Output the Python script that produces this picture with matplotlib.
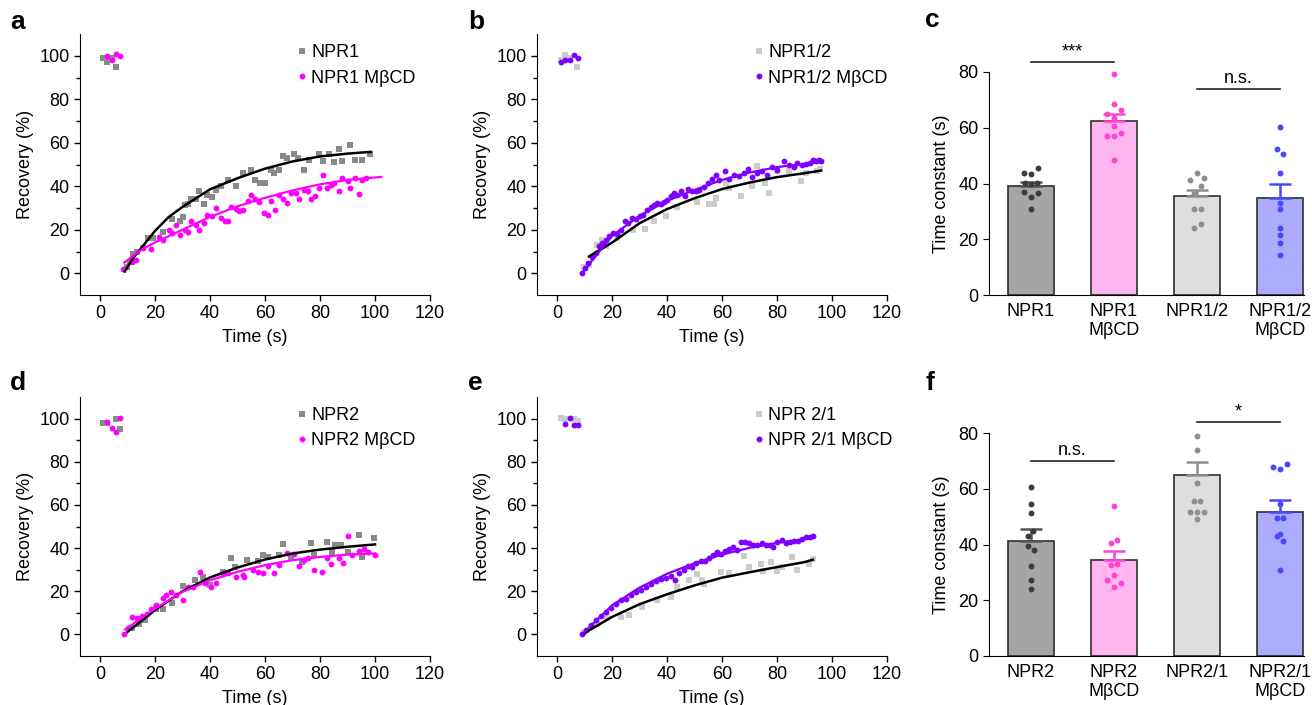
import numpy as np
import matplotlib.pyplot as plt

plt.rcParams['font.family'] = ['Liberation Sans', 'DejaVu Sans']
plt.rcParams['font.size'] = 13

# ---------------------------------------------------------------- panel a data
a_ctrl_t = [1.2, 2.7, 4.2, 5.8, 9.7, 11, 12, 13.3, 15.5, 17.5, 19.3, 23, 26, 29, 30, 31, 32, 33, 35, 36,
            37.7, 39, 40.7, 42, 44, 46.5, 49.5, 52, 55, 56.5, 58, 60, 62, 63.4, 65, 66.4, 68, 70.7,
            72, 74, 76, 79.5, 81, 83.3, 85, 87, 88, 91, 92.8, 95.4, 98]
a_ctrl_y = [99, 97, 99, 95, 3, 5.4, 9, 10, 11.5, 16, 16, 19, 25, 24, 26, 31.5, 32, 34, 34, 38,
            32, 36, 35, 38.5, 40, 43, 40, 46, 47.7, 43, 41.5, 41.5, 47.7, 46, 47.7, 54, 53, 55,
            53, 47.7, 52, 55, 51.5, 54.6, 51, 57, 51.5, 59, 52, 52, 55]
a_mbcd_t = [2.7, 4.2, 5.8, 7.2, 8.5, 11.5, 13, 15.7, 18.7, 21.5, 23, 25, 26, 27.5, 29, 31, 32, 33, 35,
            36, 37.7, 39, 40.7, 42, 44, 45.3, 46.5, 47.7, 49.5, 50.7, 52, 53.7, 55, 56.5, 57.7, 59.8,
            61, 62.2, 63.8, 65, 66.7, 68, 69.6, 71.3, 72.5, 74, 75.5, 76.7, 78, 79.5, 81, 82.7, 84,
            85, 87, 88, 90, 91, 92.8, 94.2, 95.4, 96.9]
a_mbcd_y = [100, 98, 101, 100, 1.8, 5.4, 6, 11.5, 11, 16.6, 15.4, 20, 18.5, 22, 17.7, 20, 19, 24, 22,
            19.7, 23, 27, 26.5, 30, 25.4, 23.8, 23.8, 30.5, 29.5, 28.5, 29, 33, 36, 34, 32.6, 27.7,
            27, 33, 29, 36, 34, 32.3, 37, 37, 34, 38.5, 37.7, 34, 35.4, 39, 45, 39, 40.8,
            41.5, 37.7, 43.8, 42.3, 39, 43.8, 36.6, 43, 43.8]
a_ctrl_fit_t = [9, 12, 15, 20, 25, 30, 40, 50, 60, 70, 80, 90, 98.4]
a_ctrl_fit_y = [0.8, 7, 11.6, 19.5, 25.9, 30.5, 38.6, 43.7, 48.1, 51.4, 53.7, 55, 55.8]
a_mbcd_fit_t = [8.8, 15, 20, 30, 40, 50, 60, 70, 80, 90, 102.3]
a_mbcd_fit_y = [4.9, 10.8, 14.2, 20, 25.9, 30.8, 34.7, 38.1, 40.9, 42.9, 44.3]

# ---------------------------------------------------------------- panel b data
b_ctrl_t = [1.5, 3, 4.6, 7.3, 9.7, 11.6, 14.5, 16.2, 17.7, 21.9, 27.6, 32, 35.3, 39.5, 43.7, 51, 55.3,
            57, 57.7, 61.3, 62.5, 66.8, 71, 72.8, 75.8, 77, 80.1, 84.4, 88.6, 90.4, 94.7, 95.8]
b_ctrl_y = [98, 100.5, 99, 95, 3, 3.8, 13, 15.3, 12.3, 16.2, 19.9, 20.5, 24.2, 26.5, 30.6, 32.7, 31.7,
            31.7, 34.5, 41.4, 39.1, 35.6, 39.9, 49.4, 41.7, 37.1, 46.8, 46.8, 42.2, 46.3, 46.8, 47.9]
b_mbcd_t = [1.5, 3, 4.6, 6, 7.5, 8.9, 10.2, 11.4, 12.8, 14, 15.3, 16.5, 17.7, 18.9, 20.4, 21.9, 23.1,
            24.7, 25.9, 27.4, 28.6, 30, 31.3, 32.8, 34, 35.3, 36.5, 37.7, 38.9, 40.1, 41.3, 42.5,
            43.7, 44.9, 46.5, 47.7, 49, 50.4, 51.6, 53.5, 55, 56.2, 57.7, 58.9, 61.1, 62.5, 64.4,
            66.2, 68, 69.6, 71, 72.8, 74.7, 76.5, 78.3, 80.1, 82.5, 84.4, 86.2, 87.4, 89.2, 90.7,
            91.9, 93.1, 94.3, 95.3, 96]
b_mbcd_y = [97, 98, 98, 100.5, 99, 0, 2.3, 4.6, 7.7, 9.5, 12.3, 13.8, 15.3, 16.9, 18.7, 18.1, 19.9,
            24.2, 23, 25.3, 24.9, 26.4, 26.8, 29.1, 30.6, 31.4, 32.2, 31.9, 32.9, 33.7, 35.3, 37.1,
            36, 37.6, 35.3, 38.7, 37.6, 38, 38.3, 39.6, 41.7, 43.3, 45.2, 42.9, 47.2, 43.3, 45.2,
            44.8, 46.3, 47.9, 44.2, 46.3, 46.8, 45.2, 49, 47.5, 51.4, 49.8, 48.8, 50.9, 49.8, 50.2,
            50.9, 52.1, 51.8, 52.1, 51.7]
b_ctrl_fit_t = [11.6, 20, 30, 40, 50, 60, 70, 80, 90, 96]
b_ctrl_fit_y = [7.7, 14.1, 23, 29.5, 34.5, 38.7, 41.7, 44.2, 46, 47.2]
b_mbcd_fit_t = [9, 20, 30, 40, 50, 60, 70, 80, 90, 96]
b_mbcd_fit_y = [0, 17.2, 26.4, 33.3, 38.3, 42.9, 46.3, 48.8, 50.3, 51.1]

# ---------------------------------------------------------------- panel d data
d_ctrl_t = [1.2, 2.7, 5.8, 7.2, 11.5, 14, 16.3, 20.5, 22.9, 26.2, 30.2, 34.4, 37.4, 39.9, 44.7, 47.7,
            48.9, 53.5, 57.4, 59.2, 61, 65.2, 66.4, 69.4, 73.6, 76.7, 77.9, 82.5, 84.5, 85.4, 87.8,
            90, 94.2, 95.4, 99.6]
d_ctrl_y = [98, 98, 100, 95, 2.8, 5, 6.6, 11.6, 12, 14.6, 22.4, 25.1, 26.4, 22.8, 29, 35.2,
            31.3, 34.7, 34.1, 36.7, 35.9, 36.7, 42.1, 35.2, 33.6, 42.4, 36.7, 42.9, 38.2, 41.3, 41.3,
            38.2, 46, 35.9, 44.9]
d_mbcd_t = [2.7, 4.2, 5.8, 7.2, 8.8, 10.3, 11.7, 13.3, 15.1, 16.9, 18.7, 20.5, 22.9, 24.1, 25.9, 27.7,
            30.2, 32, 33.8, 36.2, 38, 40.5, 42.3, 44.7, 46.5, 49.5, 51.9, 52.5, 55.5, 57.4, 59.2, 61,
            63.4, 65.2, 68, 70.7, 72.5, 74.3, 75.5, 77.9, 80.9, 82.7, 83.9, 86.9, 88.2, 90, 91.8,
            94.2, 96, 97.5, 99.9]
d_mbcd_y = [98.5, 95.8, 93.8, 100.3, 0.1, 3.2, 7.9, 7.4, 8.5, 9.4, 12, 13.6, 16.7, 18.2, 19.7, 18.2,
            15.9, 21.8, 22, 29, 23.6, 21.8, 23.9, 28.2, 28.5, 26.4, 27.4, 26.4, 29.8, 29, 28.5, 31.6,
            28.5, 32.1, 37.5, 37.2, 31.6, 34.4, 35.2, 29.8, 29, 35.2, 32.5, 35.2, 33.1, 45.5, 36.7,
            38.7, 39.4, 38.2, 36.7]
d_ctrl_fit_t = [10, 20, 30, 40, 50, 60, 70, 80, 90, 100]
d_ctrl_fit_y = [1.2, 11.3, 20, 26.4, 31, 34.7, 37.5, 39.3, 40.6, 41.7]
d_mbcd_fit_t = [9.1, 20, 30, 40, 50, 60, 70, 80, 90, 100]
d_mbcd_fit_y = [2.3, 12, 19.7, 25.1, 29, 32.1, 34.4, 35.9, 37, 37.5]

# ---------------------------------------------------------------- panel e data
e_ctrl_t = [1.5, 3, 6, 7.5, 9.7, 14.5, 18.2, 23.1, 26.2, 31, 36.4, 41.3, 43.7, 48, 50.9, 52.8, 53.3,
            59.5, 62.4, 68, 69.8, 74, 75, 77.7, 80, 81.9, 85.6, 87.4, 91.6, 93.1]
e_ctrl_y = [100.3, 100, 100, 98.8, 1.2, 5, 7.4, 8.1, 8.9, 12.7, 15.8, 17.3, 21.9, 25.3, 28, 25, 23.5,
            28.8, 28.4, 36.5, 31.1, 32.7, 29.6, 33.5, 29.6, 31.1, 35.8, 30, 32.4, 35]
e_mbcd_t = [3, 4.6, 6, 7.5, 8.9, 10.4, 12.2, 14, 15.9, 17.7, 19.5, 21.3, 23.1, 24.9, 26.8, 28.6, 30.4,
            32.2, 34, 35.9, 37.7, 39.5, 41.3, 42.9, 44.4, 46.2, 47.7, 49.2, 50.7, 52.2, 53.8, 55.3,
            56.7, 58.3, 59.5, 61.1, 62.5, 64, 65.6, 66.8, 68.4, 69.8, 71.3, 72.8, 74.4, 75.9, 77.3,
            78.5, 80.1, 81.7, 83.1, 84.6, 86.2, 87.7, 89.2, 90.6, 91.9, 93.1]
e_mbcd_y = [97.5, 100.3, 96.8, 97, 0.1, 2, 4.3, 6.6, 8.4, 10.4, 12.4, 14, 15.8, 16.6, 18.1, 19.6, 20.7,
            21.9, 23.2, 24.7, 25.8, 26.3, 26.9, 25.3, 28.4, 30, 31.9, 31.2, 33, 33.9, 34.2, 35.5,
            37, 38.1, 37.3, 38.8, 39.6, 40.4, 39.2, 42.7, 42.7, 42.2, 41.6, 41.6, 42.2, 41.6, 41.2,
            40.7, 42.7, 43.8, 42.2, 42.7, 43.5, 43.1, 44.2, 45, 45.3, 45.8]
e_ctrl_fit_t = [9.8, 20, 30, 40, 50, 60, 70, 80, 90, 93]
e_ctrl_fit_y = [0.5, 8.1, 14, 18.6, 22.7, 26.3, 28.8, 31.2, 33.5, 34.6]
e_mbcd_fit_t = [9, 20, 30, 40, 50, 60, 70, 80, 90, 93]
e_mbcd_fit_y = [0, 13.5, 21.7, 28.1, 33, 37, 40.1, 42.4, 44.2, 45]

# ---------------------------------------------------------------- panel c data
c_labels = ['NPR1', 'NPR1\nMβCD', 'NPR1/2', 'NPR1/2\nMβCD']
c_means = [39.0, 62.4, 35.5, 34.7]
c_sem = [1.6, 2.7, 2.1, 5.3]
c_pts = [[43.8, 43.3, 45.4, 40.2, 39.8, 40.2, 37.0, 36.7, 35.0, 31.0],
         [79.2, 68.4, 64.8, 66.3, 63.6, 60.5, 57.0, 57.0, 58.2, 48.4],
         [43.9, 41.4, 42.1, 39.0, 36.7, 31.0, 31.0, 23.9, 25.4],
         [60.1, 52.3, 50.5, 43.6, 33.0, 30.7, 24.1, 21.5, 18.7, 14.3]]
c_jit = [[-0.08, 0, 0.08, -0.07, 0, 0.07, -0.08, 0.08, 0, 0],
         [0, 0, -0.08, 0.08, 0, 0, -0.08, 0, 0.08, 0],
         [0, -0.08, 0.08, 0.05, -0.03, -0.04, 0.05, -0.03, 0.05],
         [0, -0.04, 0.04, 0, 0, 0, 0, 0, 0, 0]]
c_sig = [(0, 1, 83.5, '***'), (2, 3, 74.0, 'n.s.')]

# ---------------------------------------------------------------- panel f data
f_labels = ['NPR2', 'NPR2\nMβCD', 'NPR2/1', 'NPR2/1\nMβCD']
f_means = [41.4, 34.5, 64.8, 51.6]
f_sem = [4.1, 3.0, 4.7, 4.2]
f_pts = [[60.8, 54.5, 51.3, 45.0, 43.1, 39.5, 38.1, 32.3, 27.3, 24.2],
         [53.7, 40.7, 41.7, 32.6, 33.0, 29.2, 27.1, 26.1, 24.9],
         [78.8, 74.0, 62.0, 55.7, 55.7, 51.7, 51.7, 51.5, 49.1],
         [67.8, 67.1, 68.7, 54.5, 49.6, 49.6, 43.1, 43.8, 41.1, 30.7]]
f_jit = [[0, 0, 0, 0.03, -0.04, -0.04, 0.04, 0, 0, 0],
         [0, -0.04, 0.04, -0.04, 0.04, 0, -0.08, 0.08, 0],
         [0, 0, 0, -0.04, 0.04, -0.08, 0, 0.08, 0],
         [-0.08, 0, 0.08, 0, -0.04, 0.04, -0.04, 0, 0.04, 0]]
f_sig = [(0, 1, 70.0, 'n.s.'), (2, 3, 84.0, '*')]

# ---------------------------------------------------------------- styles
GRAY_DARK = '#8a8a8a'
GRAY_LIGHT = '#cbcbcb'
MAGENTA = '#ff00ff'
PURPLE = '#7f00ff'
bar_fill = ['#a5a5a8', '#ffb5ee', '#dedede', '#acacff']
bar_dot = ['#3c3c3c', '#ff44d2', '#8f8f8f', '#4848ff']
bar_err = ['#555555', '#ff44d2', '#8f8f8f', '#4848ff']

W, H = 1312.0, 705.0


def px_rect(left, top, right, bottom):
    return [left / W, 1 - bottom / H, (right - left) / W, (bottom - top) / H]


def recovery_panel(fig, rect, tag, tagxy, ctrl, mbcd, ctrl_fit, mbcd_fit, names, ctrl_col, mbcd_col):
    ax = fig.add_axes(rect)
    ax.plot(ctrl[0], ctrl[1], ls='none', marker='s', ms=3.8, mew=0, color=ctrl_col, label=names[0])
    ax.plot(mbcd[0], mbcd[1], ls='none', marker='o', ms=4.2, mew=0, color=mbcd_col, label=names[1])
    ax.plot(ctrl_fit[0], ctrl_fit[1], color='black', lw=1.8)
    ax.plot(mbcd_fit[0], mbcd_fit[1], color=mbcd_col, lw=1.6)
    ax.set_xlim(-7.3, 119.8)
    ax.set_ylim(-10, 110)
    ax.set_xticks(np.arange(0, 121, 20))
    ax.set_yticks(np.arange(0, 101, 20))
    ax.set_yticks(np.arange(10, 100, 20), minor=True)
    ax.spines['top'].set_visible(False)
    ax.spines['right'].set_visible(False)
    ax.tick_params(which='both', direction='out', width=1, labelsize=13)
    ax.tick_params(which='major', length=4)
    ax.tick_params(which='minor', length=3)
    ax.set_xlabel('Time (s)', fontsize=13, labelpad=5)
    ax.set_ylabel('Recovery (%)', fontsize=13, labelpad=4)
    ax.legend(loc='upper left', bbox_to_anchor=(0.62, 0.96), frameon=False, fontsize=13,
              handlelength=0.5, handletextpad=0.3, labelspacing=0.45, borderpad=0, borderaxespad=0,
              markerscale=1.0)
    fig.text(tagxy[0] / W, 1 - tagxy[1] / H, tag, fontsize=19, fontweight='bold', va='center', ha='left')
    return ax


def bar_panel(fig, rect, tag, tagxy, labels, means, sem, pts, jit, sig):
    ax = fig.add_axes(rect)
    xs = np.arange(len(means))
    ax.bar(xs, means, width=0.56, color=bar_fill, edgecolor='#2e2e2e', linewidth=1.2, zorder=2)
    for i in xs:
        ax.errorbar(i, means[i], yerr=[[0], [sem[i]]], color=bar_err[i], capsize=8, capthick=1.8,
                    elinewidth=1.8, zorder=3)
        ax.scatter(i + np.array(jit[i]), pts[i], s=18, color=bar_dot[i], linewidths=0, zorder=4,
                   clip_on=False)
    for x0, x1, yy, txt in sig:
        ax.plot([x0, x1], [yy, yy], color='#222222', lw=1.2, clip_on=False)
        ax.text((x0 + x1) / 2, yy + 0.6, txt, ha='center', va='bottom', fontsize=13)
    ax.set_xlim(-0.506, 3.29)
    ax.set_ylim(0, 80)
    ax.set_yticks(np.arange(0, 81, 20))
    ax.set_xticks(xs)
    ax.set_xticklabels(labels, fontsize=13, linespacing=1.1)
    ax.spines['top'].set_visible(False)
    ax.spines['right'].set_visible(False)
    ax.tick_params(axis='x', length=0, pad=6)
    ax.tick_params(axis='y', direction='out', length=4, labelsize=13)
    ax.set_ylabel('Time constant (s)', fontsize=13, labelpad=6)
    fig.text(tagxy[0] / W, 1 - tagxy[1] / H, tag, fontsize=19, fontweight='bold', va='center', ha='left')
    return ax


fig = plt.figure(figsize=(13.12, 7.05), dpi=100)

recovery_panel(fig, px_rect(80, 34, 430, 295), 'a', (10, 22),
               (a_ctrl_t, a_ctrl_y), (a_mbcd_t, a_mbcd_y),
               (a_ctrl_fit_t, a_ctrl_fit_y), (a_mbcd_fit_t, a_mbcd_fit_y),
               ('NPR1', 'NPR1 MβCD'), GRAY_DARK, MAGENTA)
recovery_panel(fig, px_rect(537, 34, 887, 295), 'b', (468, 22),
               (b_ctrl_t, b_ctrl_y), (b_mbcd_t, b_mbcd_y),
               (b_ctrl_fit_t, b_ctrl_fit_y), (b_mbcd_fit_t, b_mbcd_fit_y),
               ('NPR1/2', 'NPR1/2 MβCD'), GRAY_LIGHT, PURPLE)
recovery_panel(fig, px_rect(80, 397, 430, 656), 'd', (10, 383),
               (d_ctrl_t, d_ctrl_y), (d_mbcd_t, d_mbcd_y),
               (d_ctrl_fit_t, d_ctrl_fit_y), (d_mbcd_fit_t, d_mbcd_fit_y),
               ('NPR2', 'NPR2 MβCD'), GRAY_DARK, MAGENTA)
recovery_panel(fig, px_rect(537, 397, 887, 656), 'e', (468, 383),
               (e_ctrl_t, e_ctrl_y), (e_mbcd_t, e_mbcd_y),
               (e_ctrl_fit_t, e_ctrl_fit_y), (e_mbcd_fit_t, e_mbcd_fit_y),
               ('NPR 2/1', 'NPR 2/1 MβCD'), GRAY_LIGHT, PURPLE)
bar_panel(fig, px_rect(989, 72, 1304, 295), 'c', (925, 20), c_labels, c_means, c_sem, c_pts, c_jit, c_sig)
bar_panel(fig, px_rect(989, 433, 1304, 656), 'f', (925, 383), f_labels, f_means, f_sem, f_pts, f_jit, f_sig)

fig.savefig('out.png', dpi=100)
